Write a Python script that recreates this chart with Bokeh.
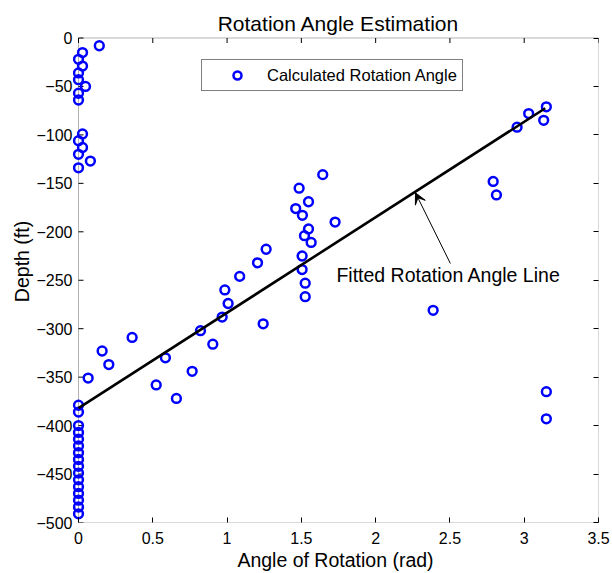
import math
from bokeh.plotting import figure
from bokeh.models import (Range1d, FixedTicker, CustomJSTickFormatter, LinearAxis,
                          Legend, LegendItem, Arrow, VeeHead, Label, ColumnDataSource,
                          BoxAnnotation)
from bokeh.embed import file_html
from bokeh.resources import INLINE

# ---- data ----
depth_ft = [-8, -15, -22, -29, -36, -43, -50, -57, -64, -71,
            -78, -85, -92, -99, -106, -113, -120, -127, -134, -141,
            -148, -155, -162, -169, -176, -183, -190, -197, -204, -211,
            -218, -225, -232, -239, -246, -253, -260, -267, -274, -281,
            -288, -295, -302, -309, -316, -323, -330, -337, -344, -351,
            -358, -365, -372, -379, -386, -393, -400, -407, -414, -421,
            -428, -435, -442, -449, -456, -463, -470, -477, -484, -491]
angle_rad = [0.14, 0.027, 0.0, 0.027, 0.0, 0.0, 0.047, 0.0, 0.0, 3.149,
             3.03, 3.131, 2.952, 0.027, 0.0, 0.027, 0.0, 0.08, 0.0, 1.644,
             2.791, 1.485, 2.813, 1.548, 1.462, 1.507, 1.727, 1.548, 1.521, 1.566,
             1.263, 1.505, 1.205, 1.505, 1.085, 1.526, 0.985, 1.526, 1.007, 2.387,
             0.967, 1.243, 0.821, 0.361, 0.904, 0.159, 0.585, 0.204, 0.765, 0.065,
             0.523, 3.149, 0.659, 0.0, 0.0, 3.149, 0.0, 0.0, 0.0, 0.0,
             0.0, 0.0, 0.0, 0.0, 0.0, 0.0, 0.0, 0.0, 0.0, 0.0]
fit_x = [0.0, 3.1416]
fit_y = [-382.0, -72.5]
x_ticks = [0, 0.5, 1, 1.5, 2, 2.5, 3, 3.5]
y_ticks = [0, -50, -100, -150, -200, -250, -300, -350, -400, -450, -500]
x_lim = (0.0, 3.5)
y_lim = (-500.0, 0.0)
title_text = "Rotation Angle Estimation"
annot_text = "Fitted Rotation Angle Line"
annot_pos = (1.736, -245.0)
arrow_tail = (2.503, -232.7)
arrow_tip = (2.268, -159.8)

FONT = "Liberation Sans"
W, H = 612, 573
BORDER_L, BORDER_R, BORDER_B = 72, 14, 51
PAD_L = 6          # room left of x=0 so markers sitting on the axis are not clipped
PAD_T = 37.5       # room above y=0 for the title (drawn inside the frame)
frame_w = W - BORDER_L - BORDER_R
frame_h = H - BORDER_B
x_pad = PAD_L * (x_lim[1] - x_lim[0]) / (frame_w - PAD_L)
y_pad = PAD_T * (y_lim[1] - y_lim[0]) / (frame_h - PAD_T)

p = figure(width=W, height=H, output_backend="svg", toolbar_location=None,
           x_range=Range1d(x_lim[0] - x_pad, x_lim[1]),
           y_range=Range1d(y_lim[0], y_lim[1] + y_pad),
           min_border_left=BORDER_L, min_border_right=BORDER_R, min_border_top=0,
           min_border_bottom=BORDER_B)
p.background_fill_color = "white"
p.border_fill_color = "white"
p.outline_line_color = None
p.xgrid.visible = False
p.ygrid.visible = False

fmt = CustomJSTickFormatter(code="return tick.toString().replace('-', '\u2212');")
blank = CustomJSTickFormatter(code="return '';")

def style_axis(ax, ticks, labels=True):
    ax.ticker = FixedTicker(ticks=ticks)
    ax.formatter = fmt if labels else blank
    ax.major_tick_in = 5
    ax.major_tick_out = 0
    ax.minor_tick_line_color = None
    ax.axis_line_color = None
    ax.major_tick_line_color = "black"
    ax.major_label_text_font = FONT
    ax.major_label_text_font_size = "16px" if labels else "0px"
    ax.major_label_text_color = "black"
    ax.axis_label_text_font = FONT
    ax.axis_label_text_font_size = "19.5px"
    ax.axis_label_text_font_style = "normal"
    ax.axis_label_text_color = "black"

style_axis(p.xaxis[0], x_ticks)
style_axis(p.yaxis[0], y_ticks)
p.xaxis[0].axis_label = "Angle of Rotation (rad)"
p.yaxis[0].axis_label = "Depth (ft)"
p.xaxis[0].major_label_standoff = 9
p.xaxis[0].axis_label_standoff = 2
# left axis sits at the frame edge (PAD_L left of x=0): labels only
p.yaxis[0].major_tick_line_color = None
p.yaxis[0].major_tick_in = 0
p.yaxis[0].major_label_standoff = 0
p.yaxis[0].axis_label_standoff = 0

right_ax = LinearAxis()
style_axis(right_ax, y_ticks, labels=False)
right_ax.major_label_standoff = 0
p.add_layout(right_ax, "right")

# axes box at the data limits, under the markers
p.add_layout(BoxAnnotation(left=x_lim[0], right=x_lim[1], bottom=y_lim[0], top=y_lim[1],
                           fill_alpha=0, line_color="black", line_width=1,
                           level="underlay"))
# inward tick marks on the left (x = 0) and top (y = 0) edges of the box
p.ray(x=[x_lim[0]] * len(y_ticks), y=y_ticks, length=5, length_units="screen",
      angle=0, line_color="black", line_width=1)
p.ray(x=x_ticks, y=[y_lim[1]] * len(x_ticks), length=5, length_units="screen",
      angle=-math.pi / 2, line_color="black", line_width=1)

src = ColumnDataSource(dict(x=angle_rad, y=depth_ft))
pts = p.scatter("x", "y", source=src, marker="circle", size=8.8,
                fill_color=None, line_color="#0000ff", line_width=2.5)
p.line(fit_x, fit_y, line_color="black", line_width=2.6)

p.add_layout(Arrow(end=VeeHead(size=11, fill_color="black", line_color="black", line_width=1),
                   x_start=arrow_tail[0], y_start=arrow_tail[1],
                   x_end=arrow_tip[0], y_end=arrow_tip[1],
                   line_color="black", line_width=1))
p.add_layout(Label(x=annot_pos[0], y=annot_pos[1], text=annot_text,
                   text_font=FONT, text_font_size="19.5px", text_baseline="middle",
                   text_color="black"))

# title centred over the axes box, baseline ~15 px above it
p.add_layout(Label(x=(x_lim[0] + x_lim[1]) / 2, y=y_lim[1], y_offset=15,
                   text=title_text, text_font=FONT, text_font_size="21px",
                   text_align="center", text_baseline="alphabetic", text_color="black"))

legend = Legend(items=[LegendItem(label="Calculated Rotation Angle", renderers=[pts])],
                location=(129, 431), orientation="vertical",
                label_text_font=FONT, label_text_font_size="16.5px",
                label_text_color="black", glyph_width=60, glyph_height=20,
                label_height=20, label_standoff=0, padding=5, margin=0, spacing=0,
                border_line_color="black", border_line_width=1,
                background_fill_color="white", background_fill_alpha=1.0)
p.add_layout(legend)

open("out.html", "w").write(file_html(p, INLINE))
